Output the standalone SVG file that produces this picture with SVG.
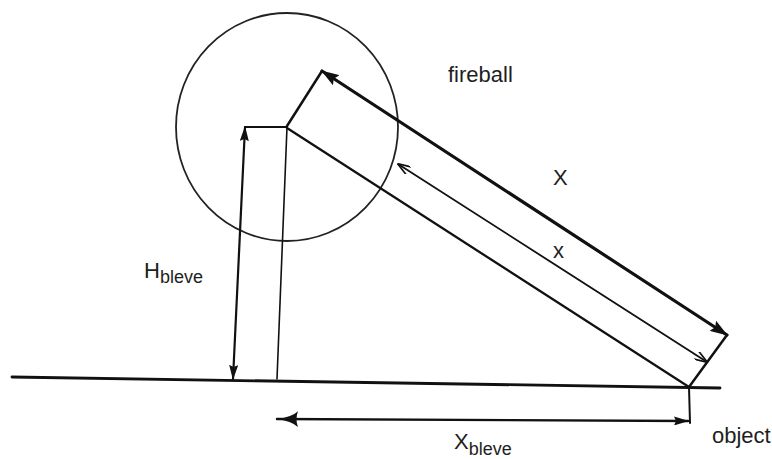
<svg xmlns="http://www.w3.org/2000/svg" width="772" height="459" viewBox="0 0 772 459">
<style>
.ln{fill:none;stroke:#111;stroke-linecap:round;stroke-linejoin:round}
.lbl{font-family:"Liberation Sans",Arial,sans-serif;fill:#1e1e1e;font-size:22px}
.sub{font-size:18px}
</style>
<defs>
<marker id="bigHead" viewBox="0 0 18 12" refX="17" refY="6" markerWidth="18" markerHeight="12" markerUnits="userSpaceOnUse" orient="auto-start-reverse">
<path d="M0,0 L18,6 L0,12 L3,6 Z" fill="#111"/>
</marker>
<marker id="thinHead" viewBox="0 0 13 9" refX="12.5" refY="4.5" markerWidth="13" markerHeight="9" markerUnits="userSpaceOnUse" orient="auto-start-reverse">
<path d="M0,0 L13,4.5 L0,9" fill="none" stroke="#111" stroke-width="1.7"/>
</marker>
<marker id="vHead" viewBox="0 0 15 9" refX="14" refY="4.5" markerWidth="15" markerHeight="9" markerUnits="userSpaceOnUse" orient="auto-start-reverse">
<path d="M0,0 L15,4.5 L0,9 L2,4.5 Z" fill="#111"/>
</marker>
<marker id="xbHead" viewBox="0 0 22 16" refX="21" refY="8" markerWidth="22" markerHeight="16" markerUnits="userSpaceOnUse" orient="auto-start-reverse">
<path d="M0,0 Q6,6 22,8 Q6,10 0,16 Q3,8 0,0 Z" fill="#111"/>
</marker>
</defs>

<g id="fireball">
<ellipse cx="287" cy="127" rx="111" ry="114" fill="none" stroke="#222" stroke-width="1.8"/>
<text class="lbl" x="448" y="82">fireball</text>
</g>

<g id="object">
<text class="lbl" x="712" y="443">object</text>
</g>

<g id="ground">
<line class="ln" x1="12" y1="377" x2="720" y2="388" stroke-width="2.8"/>
</g>

<g id="connectors">
<line class="ln" x1="245" y1="127" x2="287" y2="127" stroke-width="2.2"/>
<line class="ln" x1="287" y1="127" x2="277" y2="379" stroke-width="1.6"/>
<line class="ln" x1="245" y1="127" x2="233" y2="379" stroke-width="2.2" marker-start="url(#vHead)" marker-end="url(#vHead)"/>
<line class="ln" x1="287" y1="126" x2="322" y2="71" stroke-width="2.5"/>
<line class="ln" x1="689" y1="387" x2="727" y2="335" stroke-width="2.5"/>
<line class="ln" x1="322" y1="71" x2="727" y2="335" stroke-width="3.2" marker-start="url(#bigHead)" marker-end="url(#bigHead)"/>
<line class="ln" x1="398" y1="164" x2="707" y2="362" stroke-width="1.8" marker-start="url(#thinHead)" marker-end="url(#thinHead)"/>
<line class="ln" x1="287" y1="128" x2="689" y2="387" stroke-width="2.3"/>
<line class="ln" x1="689" y1="387" x2="690" y2="423" stroke-width="2"/>
<line class="ln" x1="277" y1="419" x2="688" y2="421" stroke-width="2.4" marker-start="url(#xbHead)" marker-end="url(#vHead)"/>
</g>

<g id="labels">
<text class="lbl" x="553" y="185">X</text>
<text class="lbl" x="553" y="258">x</text>
<text class="lbl" x="144" y="278">H<tspan class="sub" dy="5">bleve</tspan></text>
<text class="lbl" x="454" y="449">X<tspan class="sub" dy="6">bleve</tspan></text>
</g>
</svg>
